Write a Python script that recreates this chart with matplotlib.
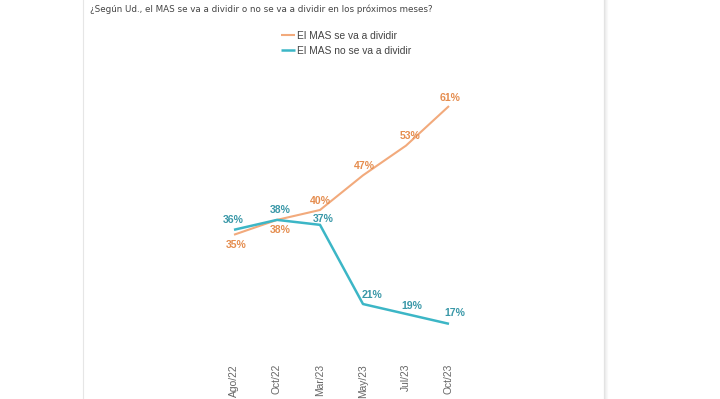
import matplotlib
matplotlib.use("Agg")
import matplotlib.pyplot as plt
from matplotlib.lines import Line2D

categories = ["Ago/22", "Oct/22", "Mar/23", "May/23", "Jul/23", "Oct/23"]
se_divide = [35, 38, 40, 47, 53, 61]
no_divide = [36, 38, 37, 21, 19, 17]
series_names = ["El MAS se va a dividir", "El MAS no se va a dividir"]
title = "¿Según Ud., el MAS se va a dividir o no se va a dividir en los próximos meses?"

# label offsets in pixels (styling)
off_se = [(2, -10), (3, -10), (0, 9), (1, 9), (4, 10), (1, 8)]
off_no = [(-1, 10), (3, 10), (3, 6), (9, 9), (6, 8), (6, 11)]

orange_line = "#f2aa7c"
orange_txt = "#e58d4f"
teal_line = "#3cb6c6"
teal_txt = "#3a98a8"

fig = plt.figure(figsize=(7.2, 3.99), dpi=100)
fig.patch.set_facecolor("white")

ax = fig.add_axes([212.5 / 720, 42 / 399, 258 / 720, 297 / 399])
ax.set_xlim(-0.5, 5.5)
ax.set_ylim(10.3, 70.3)
x = list(range(len(categories)))

ax.plot(x, se_divide, color=orange_line, lw=1.5, label=series_names[0], solid_capstyle="butt")
ax.plot(x, no_divide, color=teal_line, lw=1.8, label=series_names[1], solid_capstyle="butt")

px = 0.72
for xi, v, (dx, dy) in zip(x, se_divide, off_se):
    ax.annotate(f"{v}%", (xi, v), xytext=(dx * px, dy * px), textcoords="offset points",
                ha="center", va="center", fontsize=7.6, fontweight="bold",
                color=orange_txt, family="Liberation Sans")
for xi, v, (dx, dy) in zip(x, no_divide, off_no):
    ax.annotate(f"{v}%", (xi, v), xytext=(dx * px, dy * px), textcoords="offset points",
                ha="center", va="center", fontsize=7.6, fontweight="bold",
                color=teal_txt, family="Liberation Sans")

ax.set_xticks(x)
ax.set_xticklabels(categories, rotation=90, fontsize=7.4, color="#666666", family="Liberation Sans")
ax.tick_params(axis="x", length=0, pad=5)
ax.set_yticks([])
for s in ax.spines.values():
    s.set_visible(False)
ax.patch.set_alpha(0)

leg = fig.legend(loc="upper left", bbox_to_anchor=(281 / 720, 1 - 31 / 399),
                 frameon=False, handlelength=1.35, handletextpad=0.25,
                 labelspacing=0.45, borderaxespad=0, borderpad=0,
                 prop={"family": "Liberation Sans", "size": 7.4})
for t in leg.get_texts():
    t.set_color("#444444")

fig.text(90 / 720, 1 - 9 / 399, title, fontsize=6.3, color="#444444",
         ha="left", va="center", family="DejaVu Sans")

# card edges
fig.add_artist(Line2D([83 / 720, 83 / 720], [0, 1], color="#e6e6e6", lw=0.8))
for i, c in enumerate(["#e2e2e2", "#ececec", "#f3f3f3", "#f8f8f8"]):
    xx = (604 + i) / 720
    fig.add_artist(Line2D([xx, xx], [0, 1], color=c, lw=0.9))

fig.savefig("out.png", dpi=100)
